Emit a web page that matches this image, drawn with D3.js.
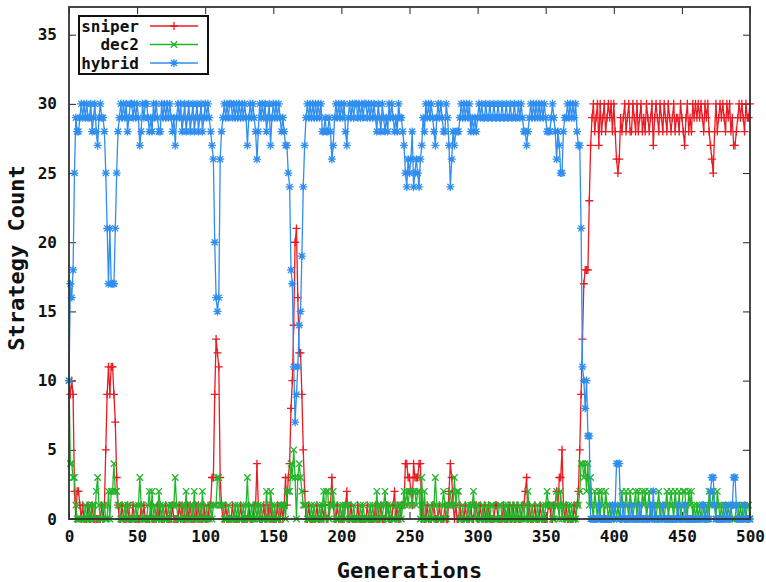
<!DOCTYPE html>
<html>
<head>
<meta charset="utf-8">
<script src="https://cdn.jsdelivr.net/npm/d3@7"></script>
<style>
  body { margin: 0; background: #fff; }
  svg { display: block; }
  .tick text { font-family: "DejaVu Sans Mono", monospace; font-weight: bold; font-size: 16px; fill: #111; }
  .tick line { stroke: #222; }
</style>
</head>
<body>
<svg id="chart" width="766" height="582"></svg>
<script>
// generations 0..500, one value per generation
var generations = d3.range(0, 501)

var xTicks = [0, 50, 100, 150, 200, 250, 300, 350, 400, 450, 500]
var yTicks = [0, 5, 10, 15, 20, 25, 30, 35]

var sniper = [
  10,9,10,9,2,0,2,2,1,0, 1,0,0,0,1,0,0,1,0,0, 0,0,0,0,1,
  0,1,5,9,11,9,11,11,9,7, 3,1,0,0,1,0,0,0,1,0, 0,0,1,0,0,
  0,0,0,1,0,1,0,0,0,0, 1,0,0,0,0,1,0,1,0,0, 0,1,0,0,0,
  0,1,0,0,0,0,1,0,1,0, 0,0,1,0,1,0,0,0,1,0, 1,0,0,0,1,
  0,0,0,1,1,3,3,9,13,12, 11,3,1,0,0,1,0,0,0,0, 1,0,0,0,0,
  0,1,0,0,0,0,0,1,0,0, 0,1,1,4,1,0,0,0,1,0, 0,1,0,1,0,
  0,0,0,1,0,0,1,0,1,3, 1,3,4,8,10,14,20,21,16,12, 12,9,5,2,0,
  0,1,0,0,0,0,0,1,0,0, 0,1,0,1,0,0,1,1,3,1, 0,0,1,0,0,
  0,0,0,1,2,0,0,1,0,0, 0,0,1,0,0,0,0,0,0,1, 0,0,0,0,0,
  1,0,0,0,1,0,0,0,1,1, 0,0,0,1,2,0,1,0,0,1, 1,1,4,4,3,
  3,2,1,4,3,3,3,4,4,0, 1,0,0,1,0,0,0,1,1,0, 0,0,1,0,0,
  0,1,0,0,2,4,3,1,0,1, 0,0,1,0,0,0,1,0,0,0, 1,0,0,1,1,
  0,0,1,0,0,1,0,0,1,0, 0,0,0,1,1,0,0,0,0,1, 0,0,0,1,0,
  0,1,0,0,1,0,0,0,1,1, 2,3,0,1,0,0,0,1,0,0, 0,1,0,0,0,
  0,0,1,1,0,0,1,1,2,1, 3,3,5,1,0,1,0,0,0,0, 0,1,0,1,2,
  5,9,13,17,18,18,18,23,27,29, 30,28,29,30,27,30,28,29,30,28, 29,30,29,30,28,
  30,28,26,25,26,29,28,29,30,28, 29,30,28,28,30,29,28,30,28,29, 30,28,29,28,30,
  29,28,29,30,27,29,30,29,28,30, 29,28,30,29,28,30,29,28,29,30, 28,29,29,28,30,
  29,28,27,29,30,28,29,28,30,29, 30,29,30,29,30,29,28,30,29,30, 28,27,26,25,28,
  30,28,29,30,29,30,29,28,30,29, 30,28,29,27,27,28,29,30,29,30, 29,28,30,29,29,30
]

var dec2 = [
  10,4,4,3,3,1,0,0,0,0, 0,0,1,0,0,1,0,1,1,0, 2,3,1,0,0,
  1,1,0,0,2,0,2,2,4,2, 2,1,1,0,0,0,1,0,1,1, 0,0,0,0,1,
  0,1,3,1,0,0,0,0,1,2, 0,2,0,1,0,0,2,1,0,1, 0,0,0,1,0,
  1,1,1,3,1,0,0,0,1,1, 0,2,0,0,1,1,0,2,0,0, 1,1,0,2,0,
  0,1,0,0,1,0,1,1,1,3, 3,1,1,1,0,0,0,1,0,0, 0,0,1,0,1,
  0,0,0,1,0,1,3,0,0,1, 0,0,1,0,1,0,1,0,0,0, 2,0,0,2,1,
  0,1,0,0,0,1,1,1,1,0, 2,2,2,4,3,5,3,0,3,4, 3,2,1,1,1,
  0,0,0,1,0,1,0,0,0,1, 0,1,2,0,2,2,0,1,1,2, 1,0,0,0,1,
  0,1,0,1,1,1,0,0,0,1, 0,0,0,0,1,0,1,0,0,0, 0,1,0,1,0,
  0,2,0,1,1,0,1,2,0,1, 0,1,0,0,0,1,1,0,1,0, 1,2,1,2,1,
  2,2,1,2,2,1,2,2,0,3, 0,2,0,0,0,1,0,0,1,3, 1,0,0,0,1,
  2,1,0,1,1,2,1,1,3,1, 2,2,0,0,1,0,0,0,1,0, 1,1,2,0,1,
  1,0,0,0,1,0,0,1,0,0, 1,1,0,0,0,0,1,1,0,0, 1,0,1,0,0,
  1,0,0,1,0,0,1,0,0,1, 0,0,2,0,0,1,0,0,0,1, 0,0,0,1,0,
  1,2,1,1,1,0,0,1,2,1, 0,2,0,1,1,0,0,1,0,1, 0,0,0,1,1,
  2,4,4,3,4,2,4,1,3,1, 0,2,1,0,2,0,2,1,0,2, 1,0,1,0,1,
  0,1,0,1,0,1,2,0,0,2, 1,0,2,1,0,1,2,0,2,0, 0,2,1,2,0,
  1,2,0,0,1,1,0,1,2,0, 1,1,0,1,2,0,1,2,1,0, 2,1,0,2,0,
  1,2,2,1,0,2,1,2,0,1, 0,1,0,1,0,0,1,0,1,0, 2,1,1,2,1,
  0,2,1,0,1,0,1,1,0,1, 0,1,0,0,0,1,1,0,1,0, 1,1,0,1,1,0
]

var hybrid = [
  10,17,16,18,25,29,28,28,29,30, 29,30,29,30,29,29,30,28,29,30, 28,27,29,30,29,
  29,28,25,21,17,21,17,17,17,21, 25,28,29,30,29,30,29,30,28,29, 30,30,29,30,29,
  30,29,27,28,30,29,30,30,29,28, 29,28,30,29,30,29,28,28,30,29, 30,29,30,29,30,
  29,28,29,27,29,30,29,30,28,29, 30,28,29,30,28,29,30,28,29,30, 28,29,30,28,29,
  30,29,30,29,28,27,26,20,16,15, 16,26,28,29,30,29,30,29,30,30, 29,30,29,30,29,
  30,29,30,29,30,29,27,29,30,29, 30,29,28,26,28,30,29,30,29,30, 28,29,30,27,29,
  30,29,30,29,30,29,28,29,28,27, 27,25,24,18,17,11,7,9,11,14, 15,19,24,27,29,
  30,29,30,29,30,29,30,29,30,29, 30,28,28,29,28,28,29,28,26,27, 29,30,29,30,29,
  30,29,30,28,27,29,30,29,30,29, 30,30,29,30,29,30,29,30,30,29, 30,29,30,29,30,
  29,28,30,29,28,30,29,28,29,28, 30,29,30,29,28,29,28,30,29,29, 28,27,25,24,26,
  25,26,28,24,25,26,25,24,26,27, 29,28,30,29,30,29,30,29,28,27, 29,30,29,30,29,
  28,28,30,29,27,24,26,28,27,28, 28,28,29,30,29,30,29,30,29,30, 28,29,28,29,28,
  29,30,29,30,29,29,30,29,29,30, 29,29,30,29,29,30,29,29,30,29, 29,30,29,29,30,
  29,29,30,29,29,30,29,30,29,28, 28,27,28,29,30,29,30,29,30,29, 30,29,30,29,30,
  29,28,28,28,29,30,29,28,26,28, 27,25,25,28,29,29,30,29,30,29, 30,29,30,28,27,
  27,21,11,10,8,10,6,6,0,0, 0,0,0,0,1,0,0,0,0,0, 0,0,0,0,1,
  0,1,4,4,4,0,0,1,0,0, 0,0,0,1,0,0,0,0,0,1, 0,0,0,0,0,
  0,0,1,0,2,0,0,0,0,0, 0,1,0,0,0,0,0,0,0,0, 0,0,1,0,0,
  0,0,1,0,0,0,0,0,0,0, 0,0,0,0,0,1,1,0,0,0, 0,2,3,3,1,
  0,0,0,0,0,0,0,1,0,0, 0,1,1,3,3,1,0,0,0,0, 0,1,0,0,0,0
]

var frameLeft = 69, frameRight = 750, frameTop = 7, frameBottom = 519

var svg = d3.select("#chart")

var x = d3.scaleLinear().domain([0, 500]).range([frameLeft, frameRight])
var y = d3.scaleLinear().domain([0, 37]).range([frameBottom, frameTop])

var symbols = {
  plus: "M-4,0H4M0,-4V4",
  cross: "M-3.2,-3.2L3.2,3.2M-3.2,3.2L3.2,-3.2",
  star: "M-4,0H4M0,-4V4M-3,-3L3,3M-3,3L3,-3"
}

var series = [
  {name: "sniper", values: sniper, color: "#ea1b22", shape: "plus"},
  {name: "dec2", values: dec2, color: "#22b52a", shape: "cross"},
  {name: "hybrid", values: hybrid, color: "#2f8ef0", shape: "star"}
]

// axes (ticks point inward, mirrored on top/right)
svg.append("g")
  .attr("transform", `translate(0,${frameBottom})`)
  .call(d3.axisBottom(x).tickValues(xTicks).tickSize(-7).tickPadding(12))
  .call(g => g.select(".domain").remove())

svg.append("g")
  .attr("transform", `translate(0,${frameTop})`)
  .call(d3.axisTop(x).tickValues(xTicks).tickSize(-7).tickFormat(""))
  .call(g => g.select(".domain").remove())

svg.append("g")
  .attr("transform", `translate(${frameLeft},0)`)
  .call(d3.axisLeft(y).tickValues(yTicks).tickSize(-7).tickPadding(12))
  .call(g => g.select(".domain").remove())

svg.append("g")
  .attr("transform", `translate(${frameRight},0)`)
  .call(d3.axisRight(y).tickValues(yTicks).tickSize(-7).tickFormat(""))
  .call(g => g.select(".domain").remove())

var line = d3.line()
  .x(function(d, i) { return x(generations[i]) })
  .y(function(d) { return y(d) })

series.forEach(function(s) {
  var g = svg.append("g").attr("class", "series-" + s.name)

  g.append("path")
    .datum(s.values)
    .attr("d", line)
    .attr("fill", "none")
    .attr("stroke", s.color)
    .attr("stroke-width", 1.3)

  g.selectAll(".pt")
    .data(s.values)
    .enter().append("path")
    .attr("class", "pt")
    .attr("transform", function(d, i) { return `translate(${x(generations[i])},${y(d)})` })
    .attr("d", symbols[s.shape])
    .attr("fill", "none")
    .attr("stroke", s.color)
    .attr("stroke-width", 1.3)
})

// frame
svg.append("rect")
  .attr("x", frameLeft)
  .attr("y", frameTop)
  .attr("width", frameRight - frameLeft)
  .attr("height", frameBottom - frameTop)
  .attr("fill", "none")
  .attr("stroke", "#333")
  .attr("stroke-width", 1.8)

// legend
var legend = svg.append("g")

legend.append("rect")
  .attr("x", 79)
  .attr("y", 16)
  .attr("width", 129)
  .attr("height", 58)
  .attr("fill", "#fff")
  .attr("stroke", "#111")
  .attr("stroke-width", 2)

series.forEach(function(s, i) {
  var ly = 26 + i * 18.5
  legend.append("text")
    .attr("x", 139)
    .attr("y", ly)
    .attr("dy", "0.35em")
    .attr("text-anchor", "end")
    .style("font-family", "'DejaVu Sans Mono', monospace")
    .style("font-weight", "bold")
    .style("font-size", "16px")
    .attr("fill", "#111")
    .text(s.name)

  legend.append("line")
    .attr("x1", 150)
    .attr("x2", 198)
    .attr("y1", ly)
    .attr("y2", ly)
    .attr("stroke", s.color)
    .attr("stroke-width", 1.3)

  legend.append("path")
    .attr("transform", `translate(174,${ly})`)
    .attr("d", symbols[s.shape])
    .attr("fill", "none")
    .attr("stroke", s.color)
    .attr("stroke-width", 1.3)
})

// axis titles
svg.append("text")
  .attr("x", (frameLeft + frameRight) / 2)
  .attr("y", 578)
  .attr("text-anchor", "middle")
  .style("font-family", "'DejaVu Sans Mono', monospace")
  .style("font-weight", "bold")
  .style("font-size", "22px")
  .attr("fill", "#111")
  .text("Generations")

svg.append("text")
  .attr("transform", "translate(24,258) rotate(-90)")
  .attr("text-anchor", "middle")
  .style("font-family", "'DejaVu Sans Mono', monospace")
  .style("font-weight", "bold")
  .style("font-size", "22px")
  .attr("fill", "#111")
  .text("Strategy Count")
</script>
</body>
</html>
